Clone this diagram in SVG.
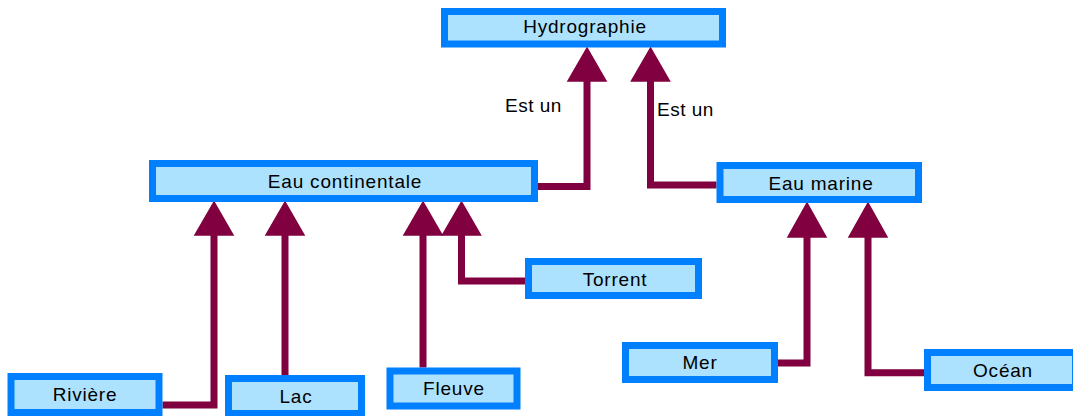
<svg xmlns="http://www.w3.org/2000/svg" width="1073" height="416" viewBox="0 0 1073 416">
<style>
.box{fill:#ADE2FF;stroke:#0080FF;stroke-width:7}
.lbl{font-family:"Liberation Sans",Arial,sans-serif;font-size:19px;letter-spacing:0.8px;fill:#000;text-anchor:middle}
.est{font-family:"Liberation Sans",Arial,sans-serif;font-size:19px;letter-spacing:0.5px;fill:#000}
.con{fill:none;stroke:#800040;stroke-width:7;stroke-linejoin:miter}
.head{fill:#800040;stroke:#800040;stroke-width:1.5;stroke-linejoin:miter}
</style>
<rect width="1073" height="416" fill="#fff"/>
<g id="connectors">
<path class="con" d="M538 186.5 H587 V80"/>
<path class="con" d="M716.5 185 H650.5 V80"/>
<path class="con" d="M162.5 405 H214 V234"/>
<path class="con" d="M285 375 V234"/>
<path class="con" d="M423 367.5 V234"/>
<path class="con" d="M525 281 H461.5 V234"/>
<path class="con" d="M778 363 H807 V236"/>
<path class="con" d="M924 372.7 H868 V236"/>
<polygon class="head" points="587,48 568,81 606,81"/>
<polygon class="head" points="650.5,48 631.5,81 669.5,81"/>
<polygon class="head" points="214,202 195,235 233,235"/>
<polygon class="head" points="285,202 266,235 304,235"/>
<polygon class="head" points="423,202 404,235 442,235"/>
<polygon class="head" points="461.5,202 442.5,235 480.5,235"/>
<polygon class="head" points="807,203 788,237 826,237"/>
<polygon class="head" points="868,203 849,237 887,237"/>
<text class="est" x="505" y="111.5">Est un</text>
<text class="est" x="657" y="115.5">Est un</text>
</g>
<g id="hydrographie"><rect class="box" x="444.5" y="11.5" width="278" height="32.5"/><text class="lbl" x="585" y="32.5">Hydrographie</text></g>
<g id="eau-continentale"><rect class="box" x="152.5" y="163.5" width="382" height="35"/><text class="lbl" x="345" y="188">Eau continentale</text></g>
<g id="eau-marine"><rect class="box" x="720" y="165.5" width="198.5" height="34"/><text class="lbl" x="821" y="190">Eau marine</text></g>
<g id="torrent"><rect class="box" x="528.5" y="261.5" width="170" height="34"/><text class="lbl" x="615" y="285.5">Torrent</text></g>
<g id="mer"><rect class="box" x="625.5" y="345.5" width="149" height="34"/><text class="lbl" x="700" y="369">Mer</text></g>
<g id="ocean"><rect class="box" x="927.5" y="352.5" width="148" height="35"/><text class="lbl" x="1003" y="377">Océan</text></g>
<g id="riviere"><rect class="box" x="11" y="376.5" width="148" height="36"/><text class="lbl" x="85" y="401">Rivière</text></g>
<g id="lac"><rect class="box" x="228.5" y="378.5" width="133" height="35"/><text class="lbl" x="296" y="403">Lac</text></g>
<g id="fleuve"><rect class="box" x="390" y="371" width="127" height="35"/><text class="lbl" x="454" y="395">Fleuve</text></g>
</svg>
